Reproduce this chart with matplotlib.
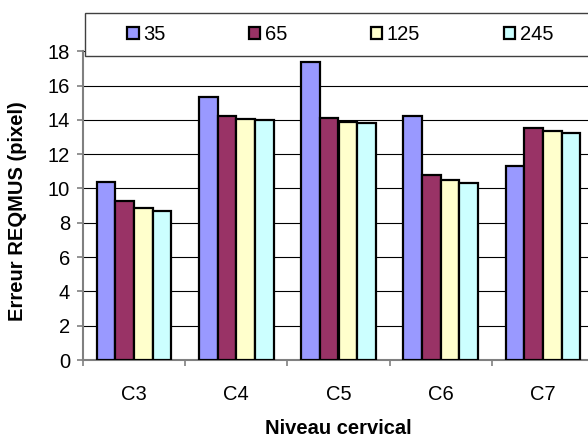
import matplotlib
matplotlib.use("Agg")
import matplotlib.pyplot as plt
from matplotlib.patches import Rectangle
import numpy as np

categories = ["C3", "C4", "C5", "C6", "C7"]
series_names = ["35", "65", "125", "245"]
s35 = [10.4, 15.35, 17.35, 14.25, 11.3]
s65 = [9.3, 14.25, 14.1, 10.8, 13.55]
s125 = [8.87, 14.05, 13.9, 10.47, 13.33]
s245 = [8.68, 13.97, 13.8, 10.33, 13.23]
yticks = [0, 2, 4, 6, 8, 10, 12, 14, 16, 18]
colors = ["#9999FF", "#993366", "#FFFFCC", "#CCFFFF"]

plt.rcParams['font.family'] = ['Liberation Sans', 'DejaVu Sans']
FS = 14.5

W, H = 588, 436
fig = plt.figure(figsize=(W / 100, H / 100), dpi=100)
ax = fig.add_axes([83 / W, (H - 360) / H, 511 / W, (360 - 51.3) / H])

x = np.arange(len(categories))
bw = 0.182
handles = []
for i, (vals, c) in enumerate(zip([s35, s65, s125, s245], colors)):
    b = ax.bar(x + (i - 1.5) * bw, vals, bw, color=c, edgecolor="black",
               linewidth=1.6, zorder=3, label=series_names[i])
    handles.append(b)

ax.set_xlim(-0.5, len(categories) - 0.5)
ax.set_ylim(0, 18)
ax.set_yticks(yticks)
ax.set_yticklabels([str(v) for v in yticks], fontsize=FS)
ax.yaxis.grid(True, color="black", linewidth=0.8, zorder=0)
ax.set_axisbelow(True)

ax.set_xticks(x)
ax.set_xticklabels(categories, fontsize=FS)
ax.set_xticks(np.arange(len(categories) + 1) - 0.5, minor=True)
ax.tick_params(axis="x", which="major", length=0, pad=18)
ax.tick_params(axis="x", which="minor", length=4, width=1.2, color="#808080", direction="out")
ax.tick_params(axis="y", length=4.3, width=1.2, color="#808080", direction="out", pad=5)

for s in ["top", "right"]:
    ax.spines[s].set_visible(False)
for s in ["left", "bottom"]:
    ax.spines[s].set_color("#808080")
    ax.spines[s].set_linewidth(1.5)

fig.text(18 / W, 1 - 211 / H, "Erreur REQMUS (pixel)", rotation=90, ha="center",
         va="center", fontsize=FS, fontweight="bold")
fig.text(338 / W, 1 - 428 / H, "Niveau cervical", ha="center", va="center",
         fontsize=FS, fontweight="bold")

# legend box
fig.patches.append(Rectangle((85 / W, 1 - 56 / H), 540 / W, 43 / H,
                             transform=fig.transFigure, facecolor="white",
                             edgecolor="#404040", linewidth=1.0, zorder=2))
hp = 11.5 / (FS * 100 / 72)
fig.legend(handles=handles, labels=series_names, ncol=4, loc="center left",
           bbox_to_anchor=(127 / W, 1 - 34.5 / H), frameon=False, fontsize=FS,
           handlelength=hp, handleheight=hp, handletextpad=0.22,
           columnspacing=4.15, borderpad=0, borderaxespad=0)

fig.savefig("out.png", dpi=100)
